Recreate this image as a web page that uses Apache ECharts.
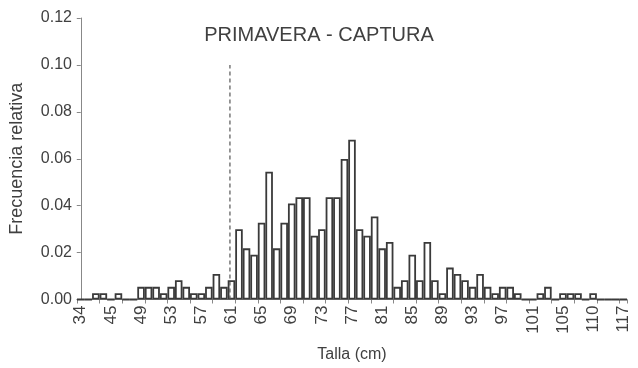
<!DOCTYPE html>
<html>
<head>
<meta charset="utf-8">
<script src="https://cdn.jsdelivr.net/npm/echarts@6/dist/echarts.min.js"></script>
<style>
  html, body { margin: 0; padding: 0; background: #fff; }
  #chart { width: 638px; height: 368px; }
</style>
</head>
<body>
<div id="chart"></div>
<script>
// Clases de talla (cm) usadas como categorías del histograma
const categorias = [
  '34', '42', '43', '44', '45', '46', '47', '48', '49', '50',
  '51', '52', '53', '54', '55', '56', '57', '58', '59', '60',
  '61', '62', '63', '64', '65', '66', '67', '68', '69', '70',
  '71', '72', '73', '74', '75', '76', '77', '78', '79', '80',
  '81', '82', '83', '84', '85', '86', '87', '88', '89', '90',
  '91', '92', '93', '94', '95', '96', '97', '98', '99', '100',
  '101', '102', '103', '104', '105', '106', '107', '108', '110', '112',
  '113', '115', '117'
];

// Frecuencia relativa por clase de talla
const frecuencia = [
  0, 0, 0.0027, 0.0027, 0, 0.0027, 0, 0, 0.0054, 0.0054,
  0.0054, 0.0027, 0.0054, 0.0082, 0.0054, 0.0027, 0.0027, 0.0054, 0.0109, 0.0054,
  0.0082, 0.0300, 0.0218, 0.0191, 0.0327, 0.0545, 0.0218, 0.0327, 0.0409, 0.0436,
  0.0436, 0.0272, 0.0300, 0.0436, 0.0436, 0.0599, 0.0681, 0.0300, 0.0272, 0.0354,
  0.0218, 0.0245, 0.0054, 0.0082, 0.0191, 0.0082, 0.0245, 0.0082, 0.0027, 0.0136,
  0.0109, 0.0082, 0.0054, 0.0109, 0.0054, 0.0027, 0.0054, 0.0054, 0.0027, 0,
  0, 0.0027, 0.0054, 0, 0.0027, 0.0027, 0.0027, 0, 0.0027, 0,
  0, 0, 0
];

// Marcas del eje Y
const ticksY = [0, 0.02, 0.04, 0.06, 0.08, 0.10, 0.12];

// Talla de referencia (línea discontinua) y su altura
const tallaCorte = 60.8;
const alturaCorte = 0.10;

// Posición de la talla de corte en unidades de índice de categoría
const idxCorte = categorias.indexOf('60') + (tallaCorte - 60);

const textoColor = '#404040';
const fuente = '"Liberation Sans", Arial, sans-serif';

const chart = echarts.init(document.getElementById('chart'), null, { renderer: 'canvas' });

chart.setOption({
  animation: false,
  backgroundColor: '#fff',
  title: {
    text: 'PRIMAVERA - CAPTURA',
    left: 'center',
    top: 20,
    textStyle: { fontFamily: fuente, fontSize: 20, fontWeight: 'normal', color: textoColor }
  },
  grid: { left: 74.5, right: 11, top: 18, bottom: 68.5, containLabel: false },
  xAxis: [
    {
      type: 'category',
      data: categorias,
      boundaryGap: true,
      name: 'Talla (cm)',
      nameLocation: 'middle',
      nameGap: 47,
      nameTextStyle: { fontFamily: fuente, fontSize: 16, color: textoColor },
      axisLine: { lineStyle: { color: '#888', width: 1 } },
      axisTick: { show: true, interval: 2, length: 4, lineStyle: { color: '#888' } },
      axisLabel: {
        interval: 3,
        rotate: 90,
        margin: 6,
        fontFamily: fuente,
        fontSize: 17,
        color: textoColor
      },
      splitLine: { show: false }
    },
    {
      // Eje auxiliar en unidades de índice para situar la talla de corte
      type: 'value',
      show: false,
      min: -0.5,
      max: categorias.length - 0.5
    }
  ],
  yAxis: {
    type: 'value',
    min: ticksY[0],
    max: ticksY[ticksY.length - 1],
    interval: 0.02,
    name: 'Frecuencia relativa',
    nameLocation: 'middle',
    nameGap: 51,
    nameTextStyle: { fontFamily: fuente, fontSize: 18, color: textoColor },
    axisLine: { show: true, lineStyle: { color: '#888', width: 1 } },
    axisTick: { show: true, length: 4, lineStyle: { color: '#888' } },
    axisLabel: {
      margin: 5,
      fontFamily: fuente,
      fontSize: 16,
      color: textoColor,
      formatter: v => v.toFixed(2)
    },
    splitLine: { show: false }
  },
  series: [
    {
      type: 'bar',
      data: frecuencia,
      barCategoryGap: 0,
      itemStyle: { color: '#fff', borderColor: '#3a3a3a', borderWidth: 1.8 }
    },
    {
      type: 'line',
      xAxisIndex: 1,
      data: [[idxCorte, 0], [idxCorte, alturaCorte]],
      symbol: 'none',
      lineStyle: { color: '#555', width: 1.2, type: [4, 3] },
      z: 3
    }
  ]
});
</script>
</body>
</html>
